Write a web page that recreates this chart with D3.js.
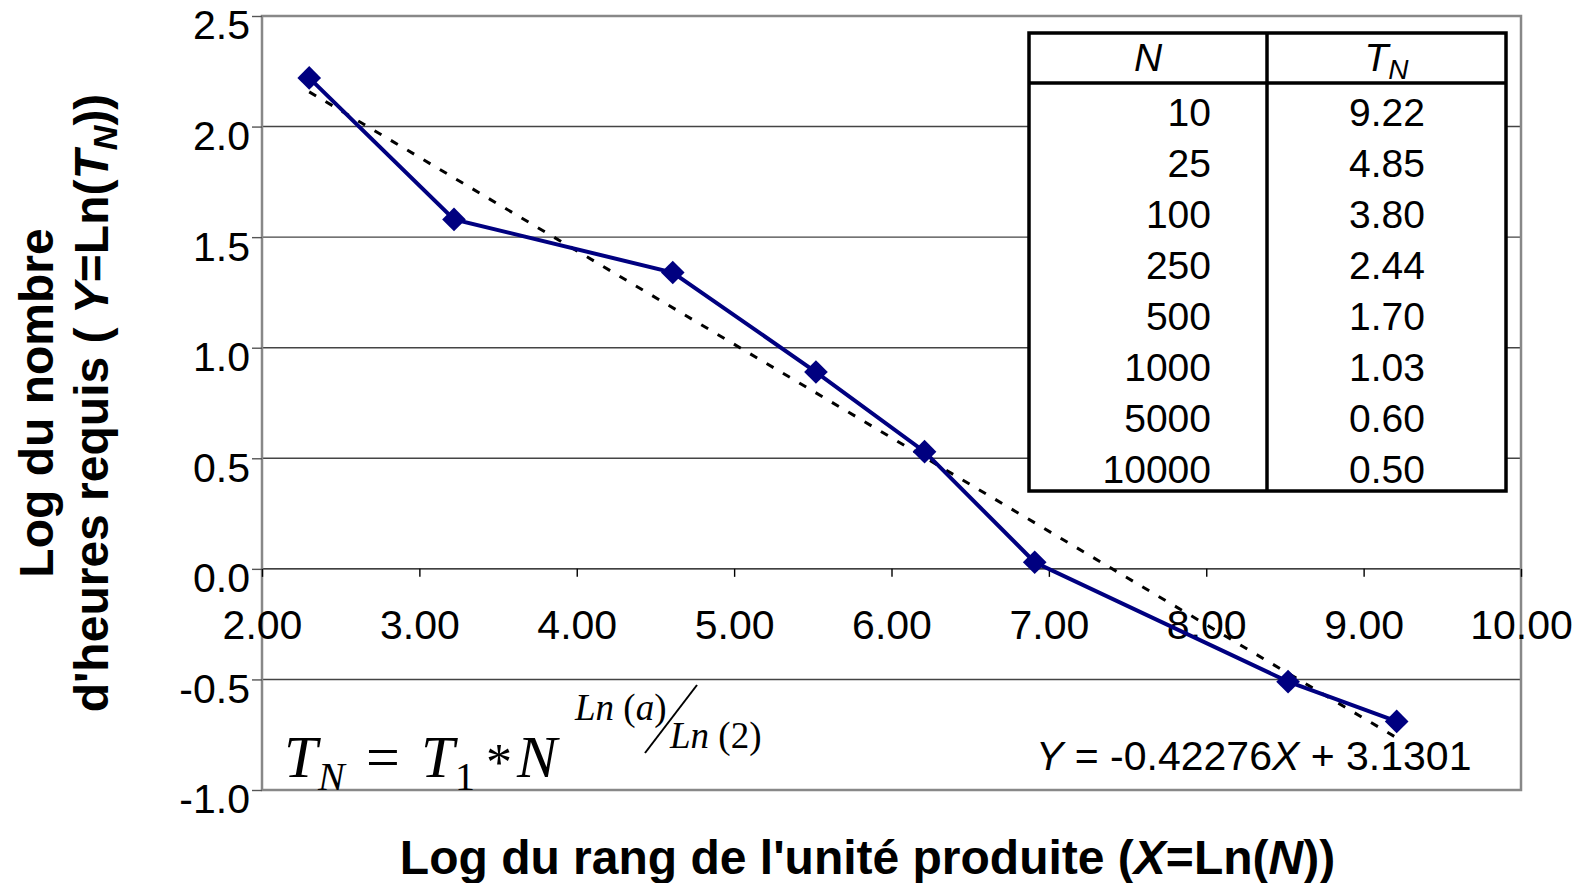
<!DOCTYPE html>
<html>
<head>
<meta charset="utf-8">
<script src="https://cdn.jsdelivr.net/npm/d3@7"></script>
<style>
  body { margin: 0; background: #fff; }
  text { font-family: "Liberation Sans", Arial, sans-serif; }
  .serif { font-family: "Liberation Serif", "Times New Roman", serif; }
</style>
</head>
<body>
<div id="chart"></div>
<script>
// values: X = Ln(N), Y = Ln(T_N)
const xValues = [2.30, 3.22, 4.61, 5.52, 6.21, 6.91, 8.52, 9.21];
const yValues = [2.22, 1.58, 1.34, 0.89, 0.53, 0.03, -0.51, -0.69];

// dotted trend line (end points of the fitted line)
const trendX = [2.30, 9.21];
const trendY = [2.157, -0.764];

// the little table in the corner
const tableN = ['10', '25', '100', '250', '500', '1000', '5000', '10000'];
const tableT = ['9.22', '4.85', '3.80', '2.44', '1.70', '1.03', '0.60', '0.50'];

const xTicks = [2, 3, 4, 5, 6, 7, 8, 9, 10];
const yTicks = [-1.0, -0.5, 0.0, 0.5, 1.0, 1.5, 2.0, 2.5];
const gridTicks = [-0.5, 0.0, 0.5, 1.0, 1.5, 2.0];

const width = 1585;
const height = 883;
const plot = { left: 262, right: 1521, top: 16, bottom: 790 };

const svg = d3.select('#chart')
  .append('svg')
  .attr('width', width)
  .attr('height', height);

const x = d3.scaleLinear().domain([2, 10]).range([plot.left, plot.right]);
const y = d3.scaleLinear().domain([-1, 2.5]).range([plot.bottom, plot.top]);

// plain hyphen for negatives, like the original
const fmt1 = (d) => d3.format('.1f')(d).replace('\u2212', '-');
const fmt2 = (d) => d3.format('.2f')(d).replace('\u2212', '-');

// horizontal gridlines
svg.append('g')
  .selectAll('line')
  .data(gridTicks)
  .enter()
  .append('line')
  .attr('x1', plot.left)
  .attr('x2', plot.right)
  .attr('y1', (d) => y(d))
  .attr('y2', (d) => y(d))
  .style('stroke', (d) => (d === 0 ? '#000' : '#444'))
  .style('stroke-width', 1.4);

// plot border
svg.append('rect')
  .attr('x', plot.left)
  .attr('y', plot.top)
  .attr('width', plot.right - plot.left)
  .attr('height', plot.bottom - plot.top)
  .style('fill', 'none')
  .style('stroke', '#888')
  .style('stroke-width', 2.5);

// Y axis
const yAxis = svg.append('g')
  .attr('transform', `translate(${plot.left},0)`)
  .call(d3.axisLeft(y).tickValues(yTicks).tickSize(10).tickPadding(2).tickFormat(fmt1));
yAxis.select('.domain').remove();
yAxis.selectAll('line').style('stroke', '#555').style('stroke-width', 1.4);
yAxis.selectAll('text')
  .style('font-size', '41px')
  .style('font-family', '"Liberation Sans", Arial, sans-serif')
  .attr('dy', '0.56em')
  .attr('fill', '#000');

// X axis sits on Y = 0
const xAxis = svg.append('g')
  .attr('transform', `translate(0,${y(0)})`)
  .call(d3.axisBottom(x).tickValues(xTicks).tickSize(8).tickPadding(33).tickFormat(fmt2));
xAxis.select('.domain').remove();
xAxis.selectAll('line').style('stroke', '#000').style('stroke-width', 1.4);
xAxis.selectAll('text')
  .style('font-size', '41px')
  .style('font-family', '"Liberation Sans", Arial, sans-serif')
  .attr('fill', '#000');

// table
const tbl = { left: 1029, right: 1506, top: 33, bottom: 491, mid: 1267, head: 83 };
const tg = svg.append('g');
tg.append('rect')
  .attr('x', tbl.left).attr('y', tbl.top)
  .attr('width', tbl.right - tbl.left).attr('height', tbl.bottom - tbl.top)
  .style('fill', '#fff').style('stroke', '#000').style('stroke-width', 3.5);
tg.append('line')
  .attr('x1', tbl.mid).attr('x2', tbl.mid).attr('y1', tbl.top).attr('y2', tbl.bottom)
  .style('stroke', '#000').style('stroke-width', 3.5);
tg.append('line')
  .attr('x1', tbl.left).attr('x2', tbl.right).attr('y1', tbl.head).attr('y2', tbl.head)
  .style('stroke', '#000').style('stroke-width', 3.5);

tg.append('text')
  .attr('x', (tbl.left + tbl.mid) / 2).attr('y', 71)
  .attr('text-anchor', 'middle')
  .style('font-size', '39px').style('font-style', 'italic')
  .text('N');
const th = tg.append('text')
  .attr('x', (tbl.mid + tbl.right) / 2).attr('y', 71)
  .attr('text-anchor', 'middle')
  .style('font-size', '39px').style('font-style', 'italic');
th.append('tspan').text('T');
th.append('tspan').attr('dy', 8).style('font-size', '28px').text('N');

const rowY = d3.scaleLinear().domain([0, tableN.length - 1]).range([126, 483]);
tg.selectAll('.colN')
  .data(tableN)
  .enter()
  .append('text')
  .attr('class', 'colN')
  .attr('x', 1211)
  .attr('y', (d, i) => rowY(i))
  .attr('text-anchor', 'end')
  .style('font-size', '39px')
  .text((d) => d);
tg.selectAll('.colT')
  .data(tableT)
  .enter()
  .append('text')
  .attr('class', 'colT')
  .attr('x', 1387)
  .attr('y', (d, i) => rowY(i))
  .attr('text-anchor', 'middle')
  .style('font-size', '39px')
  .text((d) => d);

// trend line
const trend = trendX.map((d, i) => ({ x: d, y: trendY[i] }));
const line = d3.line().x((d) => x(d.x)).y((d) => y(d.y));
svg.append('path')
  .attr('d', line(trend))
  .style('fill', 'none')
  .style('stroke', '#000')
  .style('stroke-width', 3)
  .style('stroke-dasharray', '8,11');

// series
const points = xValues.map((d, i) => ({ x: d, y: yValues[i] }));
svg.append('path')
  .attr('d', line(points))
  .style('fill', 'none')
  .style('stroke', '#000080')
  .style('stroke-width', 4);

const diamond = d3.symbol(d3.symbolSquare, 280);
svg.selectAll('.dot')
  .data(points)
  .enter()
  .append('path')
  .attr('class', 'dot')
  .attr('d', diamond)
  .attr('transform', (d) => `translate(${x(d.x)},${y(d.y)}) rotate(45)`)
  .style('fill', '#000080');

// fitted equation
const eq = svg.append('text')
  .attr('x', 1036).attr('y', 770)
  .style('font-size', '41px');
eq.append('tspan').style('font-style', 'italic').text('Y');
eq.append('tspan').text(' = -0.42276');
eq.append('tspan').style('font-style', 'italic').text('X');
eq.append('tspan').text(' + 3.1301');

// learning curve formula
const fg = svg.append('g').attr('class', 'serif');
const big = (txt, xx, yy, size, italic) => fg.append('text')
  .attr('class', 'serif')
  .attr('x', xx).attr('y', yy)
  .style('font-size', `${size}px`)
  .style('font-style', italic ? 'italic' : 'normal')
  .text(txt);
big('T', 284, 777, 60, true);
big('N', 318, 790, 40, true);
big('=', 366, 777, 60, false);
big('T', 421, 777, 60, true);
big('1', 455, 790, 40, false);
big('*', 486, 780, 52, false);
big('N', 517, 777, 60, true);
const up = fg.append('text').attr('class', 'serif').attr('x', 575).attr('y', 720).style('font-size', '37px');
up.append('tspan').style('font-style', 'italic').text('Ln');
up.append('tspan').text(' (');
up.append('tspan').style('font-style', 'italic').text('a');
up.append('tspan').text(')');
fg.append('line')
  .attr('x1', 645).attr('y1', 753).attr('x2', 697).attr('y2', 685)
  .style('stroke', '#000').style('stroke-width', 2);
const dn = fg.append('text').attr('class', 'serif').attr('x', 670).attr('y', 748).style('font-size', '37px');
dn.append('tspan').style('font-style', 'italic').text('Ln');
dn.append('tspan').text(' (2)');

// axis titles
svg.append('text')
  .attr('x', (plot.left + plot.right) / 2 - 24)
  .attr('y', 874)
  .attr('text-anchor', 'middle')
  .style('font-size', '48px')
  .style('font-weight', 'bold')
  .call((t) => {
    t.append('tspan').text('Log du rang de l\'unité produite (');
    t.append('tspan').style('font-style', 'italic').text('X');
    t.append('tspan').text('=Ln(');
    t.append('tspan').style('font-style', 'italic').text('N');
    t.append('tspan').text('))');
  });

const yt = svg.append('g').attr('transform', `translate(0,${(plot.top + plot.bottom) / 2}) rotate(-90)`);
yt.append('text')
  .attr('x', 0).attr('y', 53)
  .attr('text-anchor', 'middle')
  .style('font-size', '48px')
  .style('font-weight', 'bold')
  .text('Log du nombre');
yt.append('text')
  .attr('x', 0).attr('y', 108)
  .attr('text-anchor', 'middle')
  .style('font-size', '48px')
  .style('font-weight', 'bold')
  .call((t) => {
    t.append('tspan').text('d\'heures requis ( ');
    t.append('tspan').style('font-style', 'italic').text('Y');
    t.append('tspan').text('=Ln(');
    t.append('tspan').style('font-style', 'italic').text('T');
    t.append('tspan').style('font-style', 'italic').style('font-size', '34px').attr('dy', 9).text('N');
    t.append('tspan').attr('dy', -9).text('))');
  });
</script>
</body>
</html>
